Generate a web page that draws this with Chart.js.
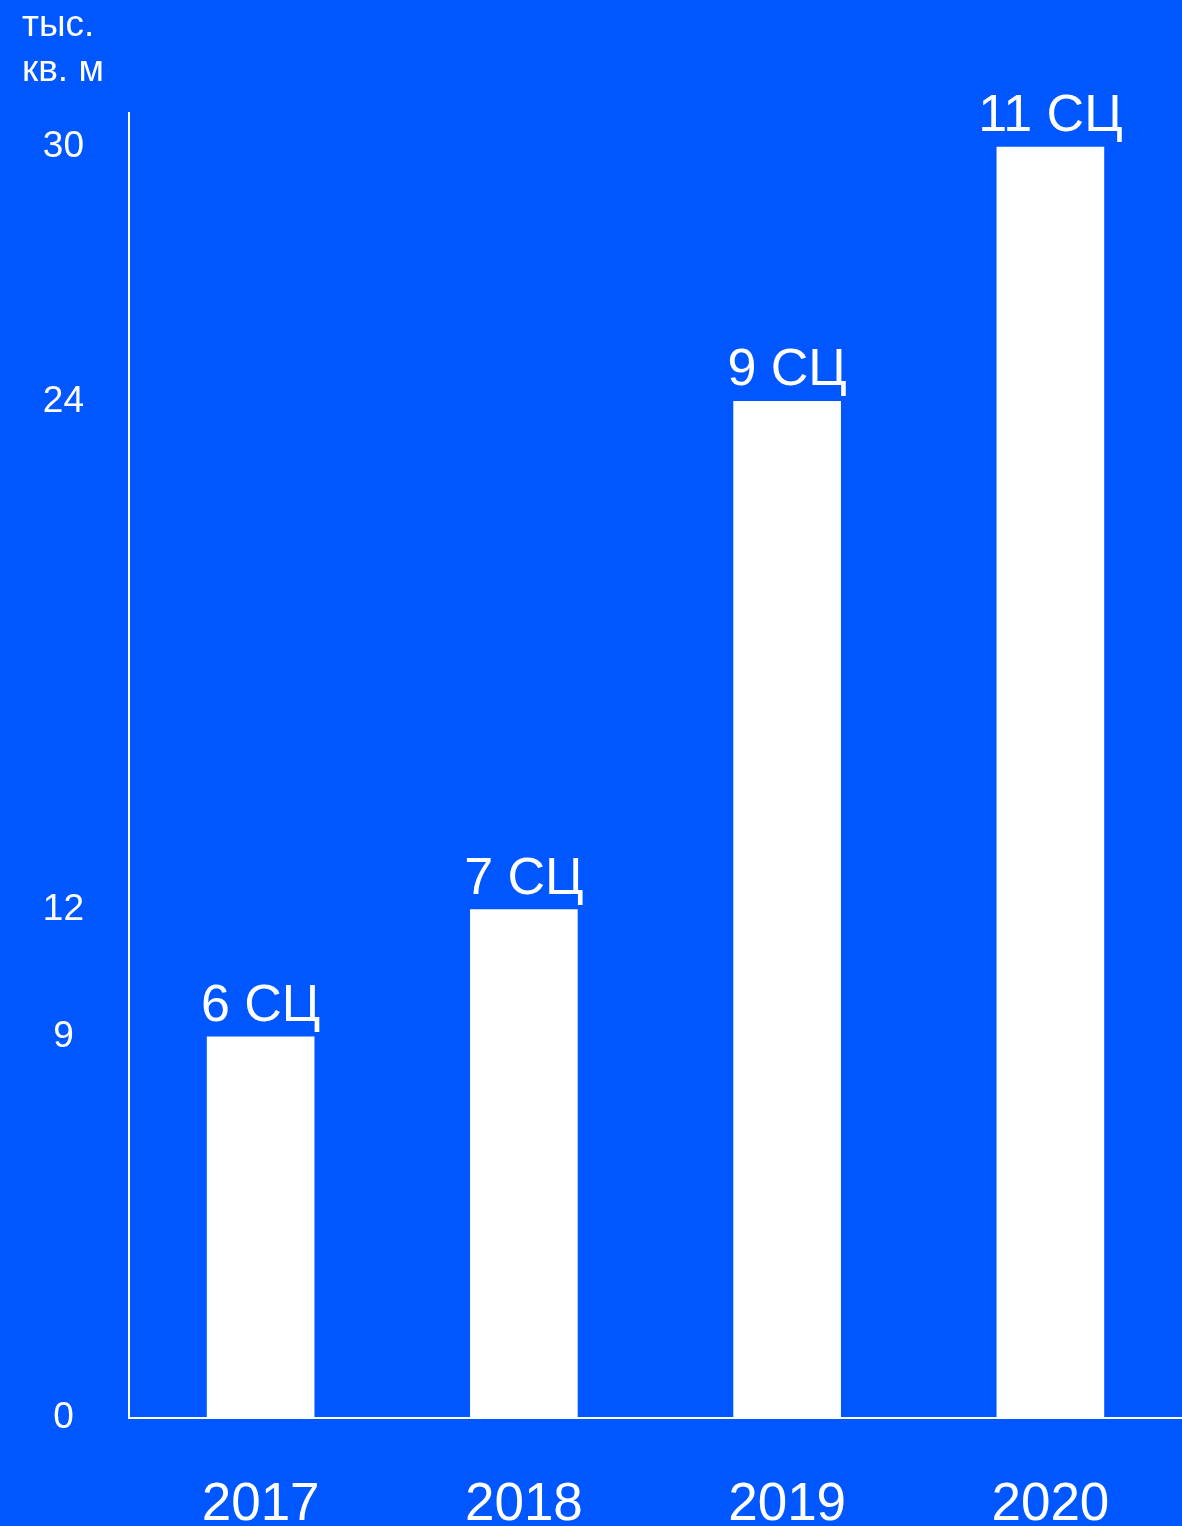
<!DOCTYPE html>
<html>
<head>
<meta charset="utf-8">
<script src="https://cdn.jsdelivr.net/npm/chart.js@4"></script>
<style>
  html, body { margin: 0; padding: 0; background: #0057ff; }
  #wrap { width: 1182px; height: 1526px; }
</style>
</head>
<body>
<div id="wrap"><canvas id="areaChart"></canvas></div>
<script>
const years = ['2017', '2018', '2019', '2020'];
const area = [9, 12, 24, 30];          // тыс. кв. м
const centerLabels = ['6 СЦ', '7 СЦ', '9 СЦ', '11 СЦ'];
const yTicks = [0, 9, 12, 24, 30];

const font = "'Liberation Sans', Arial, sans-serif";

// labels above each bar
const barLabels = {
    id: 'barLabels',
    afterDatasetsDraw(chart) {
        const ctx = chart.ctx;
        const meta = chart.getDatasetMeta(0);
        ctx.save();
        ctx.fillStyle = '#ffffff';
        ctx.font = '52px ' + font;
        ctx.textAlign = 'center';
        ctx.textBaseline = 'alphabetic';
        meta.data.forEach((bar, i) => {
            ctx.fillText(centerLabels[i], bar.x, bar.y - 16);
        });
        ctx.restore();
    }
};

const ctx = document.getElementById('areaChart').getContext('2d');
new Chart(ctx, {
    type: 'bar',
    data: {
        labels: years,
        datasets: [{
            data: area,
            backgroundColor: '#ffffff',
            borderWidth: 0,
            barThickness: 107
        }]
    },
    options: {
        responsive: true,
        maintainAspectRatio: false,
        animation: false,
        layout: { padding: { left: 22, right: 0, top: 0, bottom: 0 } },
        plugins: {
            legend: { display: false },
            tooltip: { enabled: false },
            title: {
                display: true,
                text: ['тыс.', 'кв. м'],
                align: 'start',
                color: '#ffffff',
                font: { family: font, size: 37, weight: 'normal', lineHeight: 1.22 },
                padding: { top: 3, bottom: 20 }
            }
        },
        scales: {
            x: {
                grid: { display: false },
                border: { color: '#ffffff', width: 2 },
                ticks: {
                    color: '#ffffff',
                    padding: 48,
                    font: { family: font, size: 53 }
                },
                afterFit(scale) { scale.height = 108; }
            },
            y: {
                min: 0,
                max: 30.8,
                grid: { display: false },
                border: { color: '#ffffff', width: 2 },
                afterBuildTicks(scale) {
                    scale.ticks = yTicks.map(v => ({ value: v }));
                },
                ticks: {
                    color: '#ffffff',
                    crossAlign: 'center',
                    padding: 37,
                    font: { family: font, size: 37 }
                },
                afterFit(scale) { scale.width = 107; }
            }
        }
    },
    plugins: [barLabels]
});
</script>
</body>
</html>
